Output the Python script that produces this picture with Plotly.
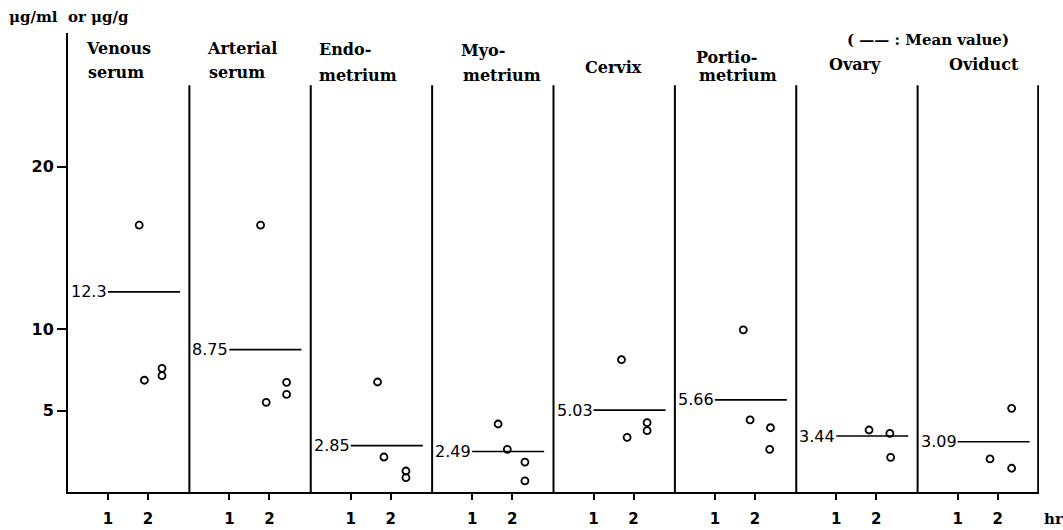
import plotly.graph_objects as go

# ---------------- data ----------------
tissues_line1 = ["Venous", "Arterial", "Endo-", "Myo-", "Cervix", "Portio-", "Ovary", "Oviduct"]
tissues_line2 = ["serum", "serum", "metrium", "metrium", "", "metrium", "", ""]
mean_values = [12.3, 8.75, 2.85, 2.49, 5.03, 5.66, 3.44, 3.09]
mean_labels = ["12.3", "8.75", "2.85", "2.49", "5.03", "5.66", "3.44", "3.09"]

# sampling times (hr) and concentrations (ug/ml or ug/g) per tissue
venous_t = [1.78, 1.91, 2.35, 2.35]
venous_v = [16.4, 6.87, 7.6, 7.15]
arterial_t = [1.78, 1.92, 2.43, 2.43]
arterial_v = [16.4, 5.51, 6.74, 6.0]
endo_t = [1.67, 1.83, 2.38, 2.38]
endo_v = [6.76, 2.15, 1.29, 0.88]
myo_t = [1.65, 1.88, 2.32, 2.32]
myo_v = [4.18, 2.62, 1.84, 0.68]
cervix_t = [1.70, 1.84, 2.34, 2.34]
cervix_v = [8.13, 3.36, 4.26, 3.77]
portio_t = [1.71, 1.88, 2.39, 2.37]
portio_v = [9.96, 4.43, 3.95, 2.62]
ovary_t = [1.82, 2.34, 2.36]
ovary_v = [3.81, 3.60, 2.13]
oviduct_t = [2.35, 1.81, 2.35]
oviduct_v = [5.14, 2.03, 1.46]

times = [venous_t, arterial_t, endo_t, myo_t, cervix_t, portio_t, ovary_t, oviduct_t]
values = [venous_v, arterial_v, endo_v, myo_v, cervix_v, portio_v, ovary_v, oviduct_v]

y_ticks = [5, 10, 20]
x_tick_text = ["1", "2"]

# ---------------- layout config ----------------
W_PX, H_PX = 1063, 530
ML, MR, MT, MB = 68, 24, 33, 38
plot_w = W_PX - ML - MR
plot_h = H_PX - MT - MB
PX_PER_HR = 40.0
PX_PER_UNIT = 16.27
panel_w = plot_w / PX_PER_HR / 8
y_top = plot_h / PX_PER_UNIT
divider_top = 25.0
line_start, line_end = 1.0, 2.8

# title positions in pixels (left x, center y)
title1_pos = [(84, 48), (205, 48), (317, 49), (459, 50), (583, 67), (694, 57), (827, 64), (947, 64)]
title2_pos = [(86, 73), (207, 73), (317, 75), (461, 75), None, (697, 75), None, None]


def xp(px):
    return (px - ML) / plot_w


def yp(py):
    return (H_PX - MB - py) / plot_h


fig = go.Figure()

serif = "DejaVu Serif"
sans = "DejaVu Sans"

for i in range(8):
    off = i * panel_w
    fig.add_trace(go.Scatter(
        x=[off + t for t in times[i]], y=values[i], mode="markers",
        marker=dict(symbol="circle-open", size=7, color="black", line=dict(width=1.8, color="black")),
        showlegend=False, hoverinfo="skip"))
    fig.add_trace(go.Scatter(
        x=[off + line_start, off + line_end], y=[mean_values[i], mean_values[i]], mode="lines",
        line=dict(color="black", width=1.6), showlegend=False, hoverinfo="skip"))
    fig.add_annotation(x=off + line_start, y=mean_values[i], xref="x", yref="y",
                       text=mean_labels[i], showarrow=False, xanchor="right", yanchor="middle",
                       xshift=1, font=dict(family=sans, size=16, color="black"))
    # divider
    xd = (i + 1) * panel_w - (0.02 if i == 7 else 0)
    fig.add_shape(type="line", xref="x", yref="y", x0=xd, x1=xd, y0=0, y1=divider_top,
                  line=dict(color="black", width=2))
    # titles
    px, py = title1_pos[i]
    fig.add_annotation(x=xp(px), y=yp(py), xref="paper", yref="paper", text=tissues_line1[i],
                       showarrow=False, xanchor="left", yanchor="middle",
                       font=dict(family=serif, size=16, color="black", weight="bold"))
    if tissues_line2[i]:
        px, py = title2_pos[i]
        fig.add_annotation(x=xp(px), y=yp(py), xref="paper", yref="paper", text=tissues_line2[i],
                           showarrow=False, xanchor="left", yanchor="middle",
                           font=dict(family=serif, size=16, color="black", weight="bold"))

# other labels
fig.add_annotation(x=xp(7), y=yp(17), xref="paper", yref="paper", text="μg/ml  or μg/g",
                   showarrow=False, xanchor="left", yanchor="middle",
                   font=dict(family=serif, size=15, color="black", weight="bold"))
fig.add_annotation(x=xp(845), y=yp(40), xref="paper", yref="paper", text="( —— : Mean value)",
                   showarrow=False, xanchor="left", yanchor="middle",
                   font=dict(family=serif, size=15, color="black", weight="bold"))
fig.add_annotation(x=xp(1042), y=yp(519), xref="paper", yref="paper", text="hr",
                   showarrow=False, xanchor="left", yanchor="middle",
                   font=dict(family=serif, size=15, color="black", weight="bold"))

tickvals = []
ticktext = []
for i in range(8):
    for k, lab in enumerate(x_tick_text):
        tickvals.append(i * panel_w + k + 1)
        ticktext.append(lab)

fig.update_xaxes(range=[0, 8 * panel_w], showline=True, linecolor="black", linewidth=2,
                 ticks="outside", ticklen=6, tickwidth=2, tickcolor="black",
                 tickvals=tickvals, ticktext=ticktext, showgrid=False, zeroline=False,
                 ticklabelstandoff=6, automargin=False,
                 tickfont=dict(family=sans, size=15, color="black", weight="bold"))
fig.update_yaxes(range=[0, y_top], showline=True, linecolor="black", linewidth=2,
                 ticks="outside", ticklen=9, tickwidth=2, tickcolor="black",
                 tickvals=y_ticks, showgrid=False, zeroline=False, automargin=False,
                 tickfont=dict(family=sans, size=16, color="black", weight="bold"))

fig.update_layout(width=W_PX, height=H_PX, margin=dict(l=ML, r=MR, t=MT, b=MB, autoexpand=False),
                  plot_bgcolor="white", paper_bgcolor="white")

fig.write_html("out.html", config={"displayModeBar": False},
               post_script="document.body.style.margin='0px';document.body.style.overflow='hidden';")
